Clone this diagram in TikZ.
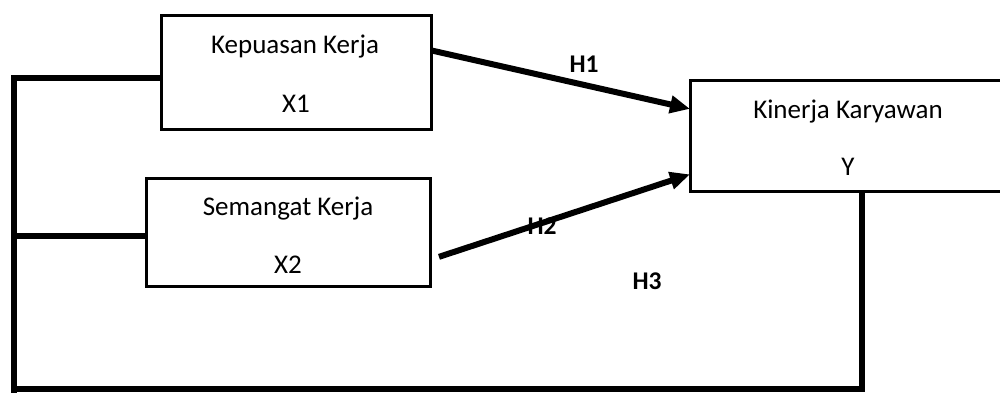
\documentclass[tikz,border=0pt]{standalone}
\usepackage{fontspec}
\setmainfont{Carlito}
\usetikzlibrary{arrows.meta,calc}
\begin{document}
\begin{tikzpicture}[x=1pt,y=-1pt,
  box/.style={draw,line width=3pt,inner sep=0pt,outer sep=0pt},
  lbl/.style={anchor=base,inner sep=0pt,font=\fontsize{27}{32}\selectfont},
  hlbl/.style={anchor=base,inner sep=0pt,font=\fontsize{25.5}{30}\selectfont\bfseries},
  frame/.style={line width=5.5pt,line join=miter},
  arr/.style={line width=6pt,-{Triangle[length=20pt,width=17pt]}}]
\useasboundingbox (0,0) rectangle (1000,392);
\clip (0,0) rectangle (1000,392);
\fill[white] (0,0) rectangle (1000,392);
% boxes
\node[box,minimum width=270pt,minimum height=114pt] (x1) at (296,72) {};
\node[box,minimum width=284pt,minimum height=108pt] (x2) at (288,232) {};
\node[box,minimum width=316pt,minimum height=111pt] (y) at (848,135.5) {};
% box texts
\node[lbl] (t1) at (295,53) {Kepuasan Kerja};
\node[lbl] (t1b) at (296,112) {X1};
\node[lbl] (t2) at (288,215) {Semangat Kerja};
\node[lbl] (t2b) at (288,273) {X2};
\node[lbl] (t3) at (848,118) {Kinerja Karyawan};
\node[lbl] (t3b) at (848,175) {Y};
% hypothesis labels
\node[hlbl] (h1) at (584,72) {H1};
\node[hlbl] (h2) at (542,234) {H2};
\node[hlbl] (h3) at (647,289) {H3};
% frame lines
\coordinate (cTop) at (14,78);
\coordinate (cMid) at (14,236);
\coordinate (cBot) at (14,389);
\coordinate (cRight) at (862,389);
\draw[frame] (x1.west |- cTop) -- (cTop) -- (14,395);
\draw[frame] (x2.west |- cMid) -- (cMid);
\draw[frame] (cBot) -- (cRight) -- (y.south -| cRight);
% arrows
\coordinate (a1s) at ($(x1.north east)!0.31!(x1.south east)$);
\coordinate (a1e) at ($(y.north west)!0.26!(y.south west)$);
\coordinate (a2s) at ($(x2.north east)!0.73!(x2.south east)+(9,0)$);
\coordinate (a2e) at ($(y.north west)!0.85!(y.south west)$);
\draw[arr] (a1s) -- (a1e);
\draw[arr] (a2s) -- (a2e);
\end{tikzpicture}
\end{document}
